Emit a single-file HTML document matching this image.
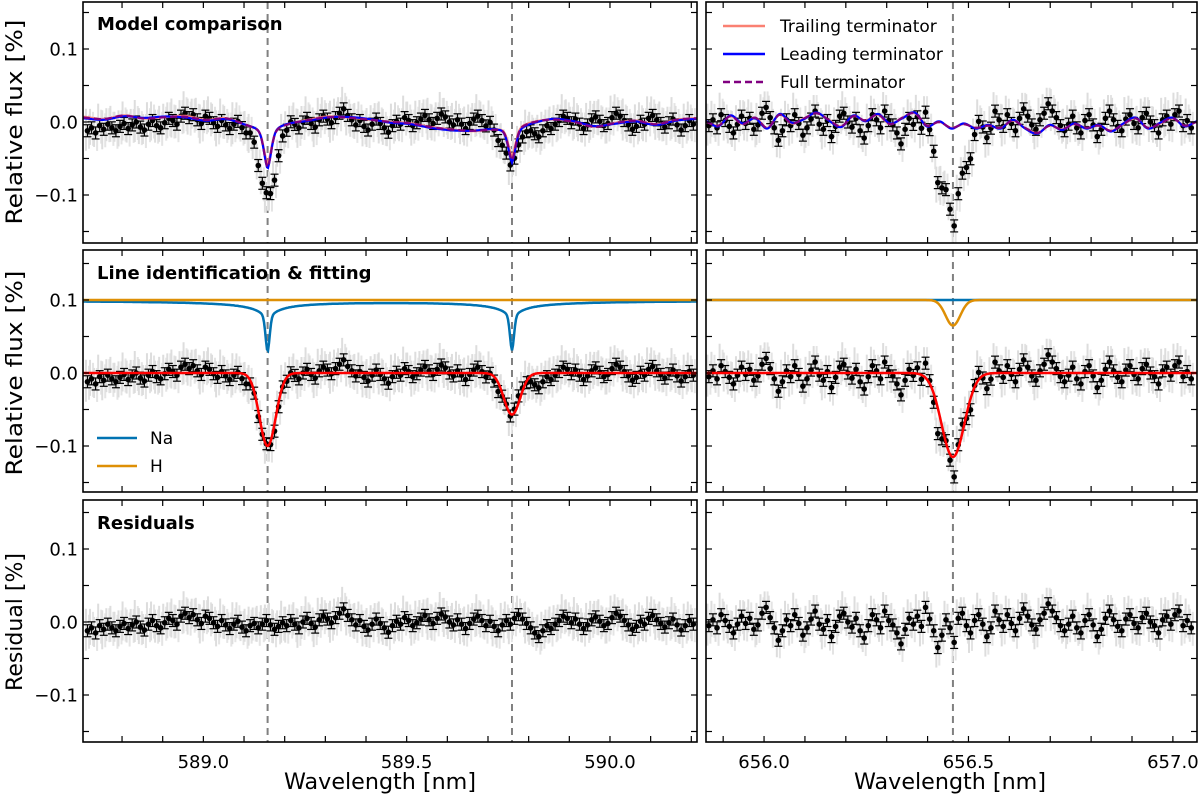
<!DOCTYPE html>
<html><head><meta charset="utf-8">
<style>
html,body{margin:0;padding:0;background:#fff;}
svg{display:block;font-family:"DejaVu Sans","Liberation Sans",sans-serif;}
</style></head>
<body>
<svg id="fig" width="1200" height="800" viewBox="0 0 1200 800"></svg>
<script>
// ---- data ----
const naCenters = [589.158, 589.759];
const haCenter = [656.462];
const fitNaDepths = [-0.100, -0.057];
const fitHaDepths = [-0.115];
const naModelDepths = [-0.070, -0.068];
const hModelDepths = [-0.035];
const termDipTrailing = [-0.055, -0.045];
const termDipLeading = [-0.062, -0.052];
const termDipFull = [-0.060, -0.050];
// residuals (units of 0.001 %), left spectrum starts 588.715 step 0.01 nm
const residLeft = [-12,-8,-15,-5,-10,-3,-8,-12,-6,-2,-9,-4,0,-7,-11,-3,2,-5,-8,-1,5,2,-3,8,12,6,10,3,-2,8,5,-1,-6,2,-4,-9,-3,1,-7,-12,-5,-2,-8,-3,2,-4,-10,-6,-1,-5,
 2,-3,-8,0,5,-2,-7,3,8,4,-1,6,12,18,9,3,-4,2,-6,-11,-3,4,-2,-8,-14,-5,1,-3,6,2,-5,-1,4,9,3,-2,5,11,7,0,-4,3,-3,-9,-2,4,8,2,-5,1,
 -6,-12,-4,2,-3,5,10,4,-2,-8,-15,-20,-12,-5,-9,-3,2,8,5,-1,4,-3,-9,-4,3,7,1,-5,-2,6,12,8,2,-4,-10,-6,1,-3,5,9,3,-2,-7,-1,4,-4,-11,-5,2,-3];
// right spectrum starts 655.865 step 0.01 nm
const residRight = [-5,3,-8,10,2,-6,-15,-3,8,-2,5,-10,-4,12,20,6,-8,-25,-12,3,-5,10,-2,-18,-8,4,15,-3,-10,2,-20,-6,8,12,0,-7,5,-12,-22,-5,10,3,-8,15,2,-4,-15,-30,-10,5,-3,8,-6,20,4,-12,-35,-18,3,-8,
 -28,5,12,-5,-15,2,10,-3,-20,-8,15,3,-6,10,-2,-12,5,18,8,-4,-10,3,12,25,15,6,-5,-12,-3,8,-8,-15,2,10,-4,-20,-10,5,15,3,-6,-12,4,10,-2,-8,6,12,0,-5,-15,3,8,-3,10,15,-5,2,-8];
// terminator model ripples (units 0.001 %)
const rippleLeftTrailing = [8,5,10,6,8,10,5,8,0,-3,2,6,10,8,5,2,0,-5,-8,-10,-6,-2,4,6,2,-5,0,3,-2,4,6];
const rippleLeftLeading  = [6,4,9,7,9,8,4,7,1,-2,3,5,9,9,6,1,-1,-6,-9,-9,-5,-3,3,7,3,-4,-1,2,-3,3,5];
const rippleLeftFull     = [7,5,10,6,8,9,5,8,1,-3,2,6,9,8,5,2,0,-5,-8,-9,-6,-2,4,6,2,-5,0,3,-2,4,6];
const rippleRightTrailing = [0,-5,8,-3,6,-8,10,-2,5,12,3,-6,8,2,10,-3,6,12,-5,0,-8,-3,-8,-5,-8,2,-8,-15,-5,-10,-3,-8,-5,-12,-3,5,-8,-2,5,-5,0];
const rippleRightLeading  = [1,-6,9,-2,5,-9,11,-1,4,13,2,-7,9,1,11,-2,5,13,-6,1,-9,-2,-9,-4,-9,3,-9,-16,-4,-11,-2,-9,-4,-13,-2,6,-9,-1,6,-6,1];
const rippleRightFull     = [0,-5,8,-3,6,-8,10,-2,5,12,3,-6,8,2,10,-3,6,12,-5,0,-8,-3,-8,-5,-8,2,-8,-15,-5,-10,-3,-8,-5,-12,-3,5,-8,-2,5,-5,0];
const xTicksLeft = [589.0, 589.5, 590.0];
const xTicksRight = [656.0, 656.5, 657.0];
const yTicks = [0.1, 0.0, -0.1];

// ---- layout ----
const NS="http://www.w3.org/2000/svg";
const svg=document.getElementById('fig');
function el(tag,attrs,parent){const e=document.createElementNS(NS,tag);for(const k in attrs)e.setAttribute(k,attrs[k]);(parent||svg).appendChild(e);return e;}
const cols=[{x0:83,x1:697,d0:588.704,d1:590.214,start:588.715,resid:residLeft,centers:naCenters,ticks:xTicksLeft,name:'sodium'},
            {x0:706,x1:1197,d0:655.858,d1:657.059,start:655.865,resid:residRight,centers:haCenter,ticks:xTicksRight,name:'halpha'}];
const rows=[{y0:2,y1:243,zero:122,name:'model-comparison'},{y0:250,y1:492,zero:373,name:'line-fitting'},{y0:500,y1:742,zero:622,name:'residuals'}];
const PPU=730;
function sx(c,v){return c.x0+(v-c.d0)/(c.d1-c.d0)*(c.x1-c.x0);}
function sy(r,v){return r.zero-v*PPU;}
function gauss(x,c,s){return Math.exp(-0.5*((x-c)/s)**2);}
function fitModel(ci,x){const c=cols[ci];const d=ci==0?fitNaDepths:fitHaDepths;const s=ci==0?0.02:0.028;let v=0;c.centers.forEach((m,i)=>v+=d[i]*gauss(x,m,s));return v;}
function ripple(arr,c,x){const t=(x-c.d0)/(c.d1-c.d0)*(arr.length-1);let i=Math.floor(t);i=Math.max(0,Math.min(arr.length-2,i));const f=t-i;
  const p0=arr[Math.max(0,i-1)],p1=arr[i],p2=arr[i+1],p3=arr[Math.min(arr.length-1,i+2)];
  const v=0.5*((2*p1)+(-p0+p2)*f+(2*p0-5*p1+4*p2-p3)*f*f+(-p0+3*p1-3*p2+p3)*f*f*f);return v/1000;}
function pathFrom(c,r,fn){let d='';for(let px=c.x0;px<=c.x1;px+=1){const x=c.d0+(px-c.x0)/(c.x1-c.x0)*(c.d1-c.d0);const y=Math.max(r.y0,Math.min(r.y1,sy(r,fn(x))));d+=(d?'L':'M')+px.toFixed(1)+' '+y.toFixed(1);}return d;}

cols.forEach((c,ci)=>{rows.forEach((r,ri)=>{
  const g=el('g',{});
  
  
  const clipId='clip'+ci+ri;
  const cp=el('clipPath',{id:clipId},g);el('rect',{x:c.x0,y:r.y0,width:c.x1-c.x0,height:r.y1-r.y0},cp);
  const inner=el('g',{'clip-path':'url(#'+clipId+')'},g);
  c.centers.forEach(m=>{const l=el('line',{x1:sx(c,m),x2:sx(c,m),y1:r.y0,y2:r.y1,stroke:'#808080','stroke-width':2,'stroke-dasharray':'7,5'},inner);
    });
  const dg=el('g',{},inner);
  
  
  c.resid.forEach((rv,i)=>{const x=c.start+i*0.01;const res=rv/1000;const v=ri==2?res:fitModel(ci,x)+res;
    const px=sx(c,x),py=sy(r,v);
    el('line',{x1:px-1.5,x2:px-1.5,y1:py-22+ (i%3)*3,y2:py+20-(i%4)*3,stroke:'#ddd','stroke-width':2},dg);
    el('line',{x1:px+1.5,x2:px+1.5,y1:py-16,y2:py+18,stroke:'#e4e4e4','stroke-width':2},dg);
  });
  c.resid.forEach((rv,i)=>{const x=c.start+i*0.01;const res=rv/1000;const v=ri==2?res:fitModel(ci,x)+res;
    const px=sx(c,x),py=sy(r,v);
    el('line',{x1:px,x2:px,y1:py-6,y2:py+6,stroke:'#000','stroke-width':1.2},dg);
    el('line',{x1:px-4,x2:px+4,y1:py-6,y2:py-6,stroke:'#000','stroke-width':1.2},dg);
    el('line',{x1:px-4,x2:px+4,y1:py+6,y2:py+6,stroke:'#000','stroke-width':1.2},dg);
    el('circle',{cx:px,cy:py,r:2.8,fill:'#000'},dg);
  });
  if(ri==0){
    const rp=ci==0?[rippleLeftTrailing,rippleLeftLeading,rippleLeftFull]:[rippleRightTrailing,rippleRightLeading,rippleRightFull];
    const dips=[termDipTrailing,termDipLeading,termDipFull];
    const styles=[{stroke:'#fa8072',w:2.2,name:'trailing-terminator-model'},{stroke:'#0000ff',w:2.2,name:'leading-terminator-model'},{stroke:'#800080',w:2.2,dash:'7,4',name:'full-terminator-model'}];
    styles.forEach((s,k)=>{const fn=x=>{let v=ripple(rp[k],c,x);if(ci==0)c.centers.forEach((m,i)=>v+=dips[k][i]*(0.65*gauss(x,m,0.009)+0.35/(1+Math.abs(x-m)/0.015)));return v;};
      const p=el('path',{d:pathFrom(c,r,fn),fill:'none',stroke:s.stroke,'stroke-width':s.w},inner);if(s.dash)p.setAttribute('stroke-dasharray',s.dash);
      });
  }
  if(ri==1){
    const na=el('path',{d:pathFrom(c,r,x=>{let v=0.1;if(ci==0)c.centers.forEach((m,i)=>{const dd=Math.abs(x-m);v+=naModelDepths[i]*(0.6*gauss(x,m,0.005)+0.4*0.025/(dd+0.025));});return v;}),fill:'none',stroke:'#0173b2','stroke-width':2.5},inner);
    
    const h=el('path',{d:pathFrom(c,r,x=>{let v=0.1;if(ci==1)v+=hModelDepths[0]*gauss(x,haCenter[0],0.018);return v;}),fill:'none',stroke:'#de8f05','stroke-width':2.5},inner);
    
    const f=el('path',{d:pathFrom(c,r,x=>fitModel(ci,x)),fill:'none',stroke:'#ff0000','stroke-width':2.5},inner);
    
  }
  el('rect',{x:c.x0,y:r.y0,width:c.x1-c.x0,height:r.y1-r.y0,fill:'none',stroke:'#000','stroke-width':1.6},g);
  for(let v=Math.ceil(c.d0*10)/10; v<=c.d1; v=Math.round((v+0.1)*10)/10){const px=sx(c,v);
    el('line',{x1:px,x2:px,y1:r.y1,y2:r.y1-6,stroke:'#000','stroke-width':1.2},g);
    el('line',{x1:px,x2:px,y1:r.y0,y2:r.y0+6,stroke:'#000','stroke-width':1.2},g);}
  for(let v=-0.15; v<=0.151; v+=0.05){const py=sy(r,v);if(py<=r.y0+1||py>=r.y1-1)continue;
    el('line',{x1:c.x0,x2:c.x0+6,y1:py,y2:py,stroke:'#000','stroke-width':1.2},g);
    el('line',{x1:c.x1,x2:c.x1-6,y1:py,y2:py,stroke:'#000','stroke-width':1.2},g);}
  if(ci==0){yTicks.forEach(v=>{const t=el('text',{x:c.x0-5,y:sy(r,v)+6.5,'text-anchor':'end','font-size':18,fill:'#000'},g);
    t.textContent=(v<0?'\u2212':'')+Math.abs(v).toFixed(1);});}
  if(ri==2){c.ticks.forEach(v=>{const t=el('text',{x:sx(c,v),y:r.y1+26,'text-anchor':'middle','font-size':18,fill:'#000'},g);
    t.textContent=v.toFixed(1);});}
});});

function txt(s,a,name){const t=el('text',a);t.textContent=s;return t;}
txt('Model comparison',{x:97,y:30,'font-size':18,'font-weight':'bold'},'panel-title-model');
txt('Line identification & fitting',{x:97,y:279,'font-size':18,'font-weight':'bold'},'panel-title-fitting');
txt('Residuals',{x:97,y:529,'font-size':18,'font-weight':'bold'},'panel-title-residuals');
txt('Relative flux [%]',{x:22,y:122,'font-size':22,'text-anchor':'middle',transform:'rotate(-90 22 122)',textLength:205,lengthAdjust:'spacingAndGlyphs'},'y-axis-title-top');
txt('Relative flux [%]',{x:22,y:373,'font-size':22,'text-anchor':'middle',transform:'rotate(-90 22 373)',textLength:205,lengthAdjust:'spacingAndGlyphs'},'y-axis-title-middle');
txt('Residual [%]',{x:22,y:622,'font-size':22,'text-anchor':'middle',transform:'rotate(-90 22 622)'},'y-axis-title-bottom');
txt('Wavelength [nm]',{x:380,y:789,'font-size':22,'text-anchor':'middle',textLength:192,lengthAdjust:'spacingAndGlyphs'},'x-axis-title-left');
txt('Wavelength [nm]',{x:950,y:789,'font-size':22,'text-anchor':'middle',textLength:192,lengthAdjust:'spacingAndGlyphs'},'x-axis-title-right');
const leg=[['Trailing terminator','#fa8072',null,26],['Leading terminator','#0000ff',null,54],['Full terminator','#800080','7,4',82]];
leg.forEach(l=>{const g=el('g',{});
  const ln=el('line',{x1:723,x2:765,y1:l[3],y2:l[3],stroke:l[1],'stroke-width':2.5},g);if(l[2])ln.setAttribute('stroke-dasharray',l[2]);
  const t=el('text',{x:780,y:l[3]+6,'font-size':17},g);t.textContent=l[0];});
[['Na','#0173b2',438],['H','#de8f05',466]].forEach(l=>{const g=el('g',{});
  el('line',{x1:97,x2:137,y1:l[2],y2:l[2],stroke:l[1],'stroke-width':2.5},g);
  const t=el('text',{x:150,y:l[2]+6,'font-size':17},g);t.textContent=l[0];});
</script>
</body></html>
